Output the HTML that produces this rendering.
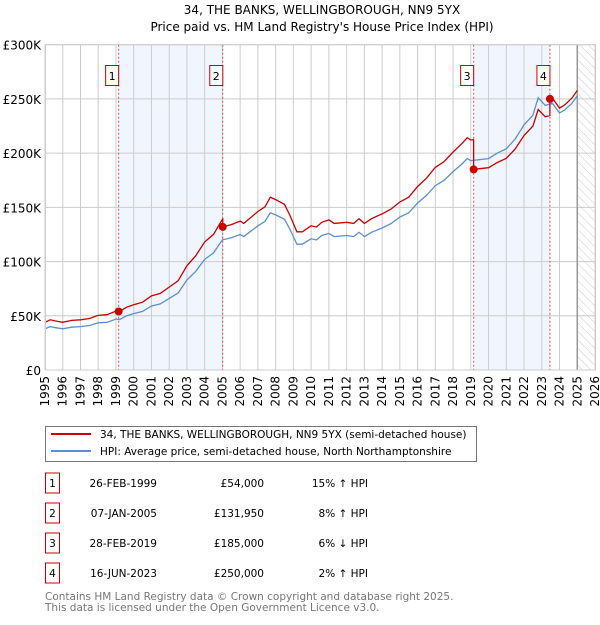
<!DOCTYPE html>
<html><head><meta charset="utf-8"><style>
body{margin:0;background:#fff;}
svg{font-family:"DejaVu Sans","Liberation Sans",sans-serif;}
</style></head><body>
<svg id="c" width="600" height="620" xmlns="http://www.w3.org/2000/svg">
<text x="322" y="14" text-anchor="middle" font-size="12">34, THE BANKS, WELLINGBOROUGH, NN9 5YX</text>
<text x="322" y="31" text-anchor="middle" font-size="12">Price paid vs. HM Land Registry's House Price Index (HPI)</text>
<g id="plot"></g>
<g>
<rect x="45.5" y="426.5" width="431" height="35" fill="#fff" stroke="#777"/>
<line x1="51" y1="434" x2="91" y2="434" stroke="#cc0000" stroke-width="2"/>
<text x="100" y="438" font-size="10.5">34, THE BANKS, WELLINGBOROUGH, NN9 5YX (semi-detached house)</text>
<line x1="51" y1="451" x2="91" y2="451" stroke="#5b8fd4" stroke-width="2"/>
<text x="100" y="455" font-size="10.5">HPI: Average price, semi-detached house, North Northamptonshire</text>
</g>
<g id="table" font-size="10.5"></g>
<text x="45" y="600" font-size="10.5" fill="#777">Contains HM Land Registry data © Crown copyright and database right 2025.</text>
<text x="45" y="611" font-size="10.5" fill="#777">This data is licensed under the Open Government Licence v3.0.</text>
</svg>
<script>
const hpiYears=[1995.0,1995.3,1995.6,1996.0,1996.5,1997.0,1997.5,1998.0,1998.5,1999.0,1999.2,1999.6,2000.0,2000.5,2001.0,2001.5,2002.0,2002.5,2003.0,2003.5,2004.0,2004.5,2005.0,2005.5,2006.0,2006.2,2006.6,2007.0,2007.4,2007.7,2008.0,2008.5,2008.8,2009.2,2009.5,2010.0,2010.3,2010.6,2011.0,2011.3,2012.0,2012.4,2012.7,2013.0,2013.4,2014.0,2014.5,2015.0,2015.5,2016.0,2016.5,2017.0,2017.5,2018.0,2018.5,2018.8,2019.0,2019.5,2020.0,2020.5,2021.0,2021.5,2022.0,2022.5,2022.8,2023.2,2023.6,2024.0,2024.3,2024.7,2025.0];
const hpiValues=[38,40,39,38,39.5,40,41,43.5,44,47,46.5,50,52,54,59,61,66,71,83,91,102,108,120,122,125,123,128,133,137,145,143,139,130,116,116,121,120,124,126,123,124,123,127,123,127,131,135,141,145,154,161,170,175,183,190,195,193,194,195,200,204,213,226,235,251,244,246,237,240,246,253];
const saleLabels=["1","2","3","4"];
const saleDates=["26-FEB-1999","07-JAN-2005","28-FEB-2019","16-JUN-2023"];
const saleYears=[1999.15,2005.02,2019.16,2023.46];
const salePrices=[54000,131950,185000,250000];
const salePriceText=["£54,000","£131,950","£185,000","£250,000"];
const saleHpiText=["15% ↑ HPI","8% ↑ HPI","6% ↓ HPI","2% ↑ HPI"];
const yTicks=[0,50,100,150,200,250,300];
const yTickLabels=["£0","£50K","£100K","£150K","£200K","£250K","£300K"];
const xTicks=[1995,1996,1997,1998,1999,2000,2001,2002,2003,2004,2005,2006,2007,2008,2009,2010,2011,2012,2013,2014,2015,2016,2017,2018,2019,2020,2021,2022,2023,2024,2025,2026];

const NS="http://www.w3.org/2000/svg";
const X0=45,X1=595,Y0=370,Y1=44.7;
const x=t=>X0+(t-1995)/(2026-1995)*(X1-X0);
const y=v=>Y0-v/300*(Y0-Y1);
function el(tag,attrs,parent){const e=document.createElementNS(NS,tag);for(const k in attrs)e.setAttribute(k,attrs[k]);parent.appendChild(e);return e;}
const plot=document.getElementById('plot');
function hpiAt(t){for(let i=1;i<hpiYears.length;i++){if(t<=hpiYears[i]){const a=hpiYears[i-1],b=hpiYears[i];return hpiValues[i-1]+(hpiValues[i]-hpiValues[i-1])*(t-a)/(b-a);}}return hpiValues[hpiValues.length-1];}
for(let i=0;i<saleYears.length;i+=2){
 const e=el('rect',{x:x(saleYears[i]),y:Y1,width:x(saleYears[i+1])-x(saleYears[i]),height:Y0-Y1,fill:'#eef3fc',opacity:0.8},plot);
 
 
}
const defs=el('defs',{},plot);
const pat=el('pattern',{id:'h',width:6,height:6,patternUnits:'userSpaceOnUse',patternTransform:'rotate(-45)'},defs);
el('line',{x1:0,y1:0,x2:0,y2:6,stroke:'#ccc','stroke-width':1},pat);
const hr=el('rect',{x:x(2025),y:Y1,width:X1-x(2025),height:Y0-Y1,fill:'url(#h)'},plot);


xTicks.forEach(t=>{
 const l=el('line',{x1:x(t),y1:Y1,x2:x(t),y2:Y0,stroke:'#ccc','stroke-width':1},plot);
 
 
 const tx=el('text',{x:0,y:0,'font-size':12,'text-anchor':'end',transform:`translate(${x(t)+4},${Y0+6}) rotate(-90)`},plot);
 tx.textContent=t;
 
 
});
yTicks.forEach((v,i)=>{
 const l=el('line',{x1:X0,y1:y(v),x2:X1,y2:y(v),stroke:'#ccc','stroke-width':1},plot);
 
 
 const tx=el('text',{x:41,y:y(v)+5,'font-size':12,'text-anchor':'end'},plot);
 tx.textContent=yTickLabels[i];
 
 
});
const nowL=el('line',{x1:x(2025),y1:Y1,x2:x(2025),y2:Y0,stroke:'#999','stroke-width':1.5},plot);


saleYears.forEach((t,i)=>{
 const l=el('line',{x1:x(t),y1:Y1,x2:x(t),y2:Y0,stroke:'#e05050','stroke-width':1,'stroke-dasharray':'2,2'},plot);
 
 
 const b=el('rect',{x:x(t)-13,y:65.5,width:13,height:20,fill:'#fff',stroke:'#cc0000'},plot);
 
 
 const tx=el('text',{x:x(t)-6.5,y:80,'font-size':11,'text-anchor':'middle'},plot);
 tx.textContent=saleLabels[i];
 
 
});
const bp=hpiYears.map((t,i)=>`${i?'L':'M'}${x(t).toFixed(1)},${y(hpiValues[i]).toFixed(1)}`).join('');
const bl=el('path',{d:bp,fill:'none',stroke:'#5b8fd4','stroke-width':1.3},plot);


let rp='';const firstRatio=salePrices[0]/1000/hpiAt(saleYears[0]);
hpiYears.forEach((t,i)=>{
 let k=-1;for(let j=0;j<saleYears.length;j++)if(t>=saleYears[j])k=j;
 const r=k<0?firstRatio:salePrices[k]/1000/hpiAt(saleYears[k]);
 if(k>=0&&i>0&&hpiYears[i-1]<saleYears[k]){
  const prevK=k-1;const pr=prevK<0?firstRatio:salePrices[prevK]/1000/hpiAt(saleYears[prevK]);
  rp+=`L${x(saleYears[k]).toFixed(1)},${y(hpiAt(saleYears[k])*pr).toFixed(1)}L${x(saleYears[k]).toFixed(1)},${y(salePrices[k]/1000).toFixed(1)}`;
 }
 rp+=`${rp?'L':'M'}${x(t).toFixed(1)},${y(hpiValues[i]*r).toFixed(1)}`;
});
const rl=el('path',{d:rp,fill:'none',stroke:'#cc0000','stroke-width':1.3},plot);


saleYears.forEach((t,i)=>{
 const c=el('circle',{cx:x(t),cy:y(salePrices[i]/1000),r:4,fill:'#cc0000'},plot);
 
 
});
const fr=el('rect',{x:X0+0.5,y:Y1,width:X1-X0,height:Y0-Y1,fill:'none',stroke:'#ccc'},plot);


const tb=document.getElementById('table');
saleLabels.forEach((s,i)=>{
 const cy=483+i*30;
 const b=el('rect',{x:45.5,y:cy-10,width:14,height:20,fill:'#fff',stroke:'#cc0000'},tb);
 
 
 const cells=[[s,52.5,'middle'],[saleDates[i],157,'end'],[salePriceText[i],264,'end'],[saleHpiText[i],368,'end']];
 const names=['sale-row-number','sale-row-date','sale-row-price','sale-row-hpi-diff'];
 cells.forEach((c,j)=>{
  const tx=el('text',{x:c[1],y:cy+4,'text-anchor':c[2]},tb);
  tx.textContent=c[0];
  
  
 });
});
</script>
</body></html>
